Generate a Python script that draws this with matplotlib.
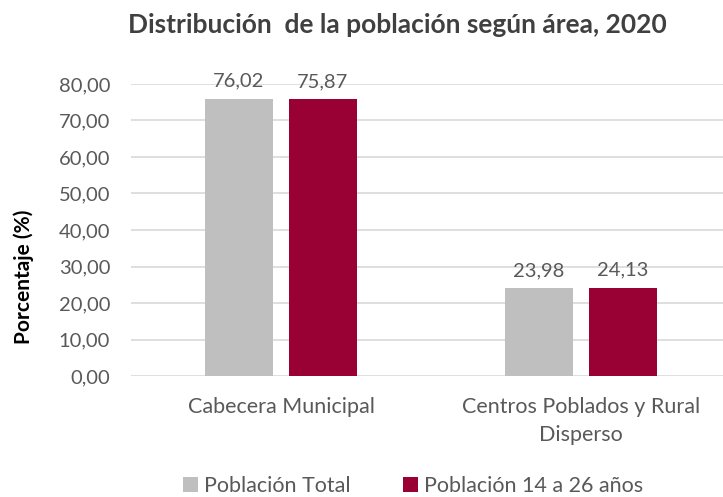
import matplotlib
matplotlib.use("Agg")
import matplotlib.pyplot as plt
import numpy as np

# ── data ──────────────────────────────────────────────────────────────────────
CATEGORIES   = ["Cabecera Municipal", "Centros Poblados y Rural\nDisperso"]
SERIES       = ["Población Total", "Población 14 a 26 años"]
TOTAL        = [76.02, 23.98]
JOVENES      = [75.87, 24.13]
YTICKS       = [0, 10, 20, 30, 40, 50, 60, 70, 80]

COLORS       = ["#BFBFBF", "#990033"]
TXT          = "#595959"

plt.rcParams["font.family"] = ["Lato", "DejaVu Sans"]

fig = plt.figure(figsize=(7.23, 4.97), dpi=100)
ax = fig.add_axes([131 / 723, 121 / 497, 592 / 723, 292 / 497])

x = np.arange(len(CATEGORIES))
w = 0.227
off = 0.14
for vals, dx, c, lab in [(TOTAL, -off, COLORS[0], SERIES[0]),
                         (JOVENES, off, COLORS[1], SERIES[1])]:
    bars = ax.bar(x + dx, vals, width=w, color=c, label=lab, zorder=3)
    for b, v in zip(bars, vals):
        ax.text(b.get_x() + b.get_width() / 2, v + 2.5, f"{v:.2f}".replace(".", ","),
                ha="center", va="bottom", fontsize=14.5, color=TXT)

ax.set_xlim(-0.5, -0.5 + 592 / 300)
ax.set_ylim(0, 80)
ax.set_yticks(YTICKS)
ax.set_yticklabels([f"{t:.2f}".replace(".", ",") for t in YTICKS], fontsize=14.5, color=TXT)
ax.set_xticks(x)
ax.set_xticklabels(CATEGORIES, fontsize=15.5, color=TXT, linespacing=1.5)
ax.tick_params(axis="y", length=0, pad=15)
ax.tick_params(axis="x", length=0, pad=15)
ax.grid(axis="y", color="#D9D9D9", lw=1.2, zorder=0)
for s in ax.spines.values():
    s.set_visible(False)

fig.text(397 / 723, 1 - 25 / 497, "Distribución  de la población según área, 2020",
         ha="center", va="center", fontsize=19, fontweight="bold", color="#404040")
fig.text(24 / 723, 1 - 277 / 497, "Porcentaje (%)", rotation=90, ha="center", va="center",
         fontsize=15, fontweight="bold", color="black")

fig.legend(loc="center", bbox_to_anchor=(413 / 723, 1 - 486 / 497), ncol=2, frameon=False,
           fontsize=15.5, handlelength=0.7, handleheight=0.7, handletextpad=0.3,
           columnspacing=2.4, labelcolor=TXT)

fig.savefig("out.png", dpi=100)
